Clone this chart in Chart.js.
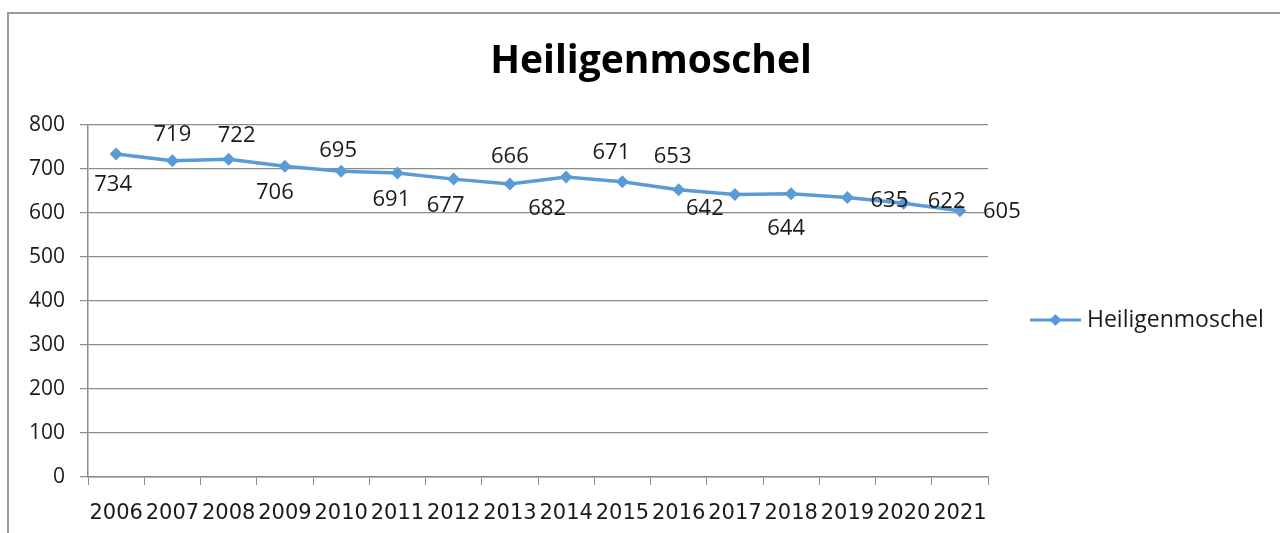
<!DOCTYPE html>
<html>
<head>
<meta charset="utf-8">
<script src="https://cdn.jsdelivr.net/npm/chart.js@4"></script>
<style>
  html, body { margin: 0; padding: 0; background: #fff; }
  #wrap { position: relative; width: 1280px; height: 533px; }
  #frame { position: absolute; left: 7px; top: 12px; right: 0; bottom: 0;
           border-left: 2px solid #9a9a9a; border-top: 2px solid #9a9a9a; }
  canvas { position: absolute; left: 0; top: 0; }
</style>
</head>
<body>
<div id="wrap">
  <div id="frame"></div>
  <canvas id="chart" width="1280" height="533"></canvas>
</div>
<script>
// data
const years = ['2006', '2007', '2008', '2009', '2010', '2011', '2012', '2013',
               '2014', '2015', '2016', '2017', '2018', '2019', '2020', '2021'];
const residents = [734, 719, 722, 706, 695, 691, 677, 666, 682, 671, 653, 642, 644, 635, 622, 605];
const seriesName = 'Heiligenmoschel';
const yTicks = [0, 100, 200, 300, 400, 500, 600, 700, 800];

const lineColor = '#5b9bd5';
const fontFamily = '"Open Sans", Lato, "Noto Sans", sans-serif';

// where each value label sits next to its point (dx, dy in px)
const labelNudge = [
  [-3, 31], [0, -26], [8, -24], [-10, 26], [-3, -20], [-6, 27], [-8, 27], [0, -27],
  [-19, 32], [-11, -29], [-6, -33], [-30, 14], [-5, 35], [42, 3], [43, -2], [42, 1]
];

// value labels
const valueLabels = {
  id: 'valueLabels',
  afterDatasetsDraw(chart) {
    const ctx = chart.ctx;
    const meta = chart.getDatasetMeta(0);
    ctx.save();
    ctx.font = '22px ' + fontFamily;
    ctx.fillStyle = '#1a1a1a';
    ctx.textAlign = 'center';
    ctx.textBaseline = 'middle';
    meta.data.forEach((pt, i) => {
      const n = labelNudge[i] || [0, -20];
      ctx.fillText(String(residents[i]), pt.x + n[0], pt.y + n[1]);
    });
    ctx.restore();
  }
};

// title (centred on the whole frame) and legend on the right, drawn by hand
const frameDecor = {
  id: 'frameDecor',
  afterDraw(chart) {
    const ctx = chart.ctx;
    ctx.save();
    ctx.font = 'bold 39px ' + fontFamily;
    ctx.fillStyle = '#000';
    ctx.textAlign = 'center';
    ctx.textBaseline = 'middle';
    ctx.fillText(seriesName, 651, 62);

    const y = (chart.chartArea.top + chart.chartArea.bottom) / 2 + 19;
    const x0 = 1030, x1 = 1081;
    ctx.strokeStyle = lineColor;
    ctx.lineWidth = 3;
    ctx.beginPath();
    ctx.moveTo(x0, y);
    ctx.lineTo(x1, y);
    ctx.stroke();
    const cx = (x0 + x1) / 2;
    ctx.fillStyle = lineColor;
    ctx.beginPath();
    ctx.moveTo(cx, y - 6);
    ctx.lineTo(cx + 6, y);
    ctx.lineTo(cx, y + 6);
    ctx.lineTo(cx - 6, y);
    ctx.closePath();
    ctx.fill();
    ctx.font = '23px ' + fontFamily;
    ctx.fillStyle = '#1a1a1a';
    ctx.textAlign = 'left';
    ctx.fillText(seriesName, x1 + 6, y);
    ctx.restore();
  }
};

new Chart(document.getElementById('chart'), {
  type: 'line',
  data: {
    labels: years,
    datasets: [{
      label: seriesName,
      data: residents,
      borderColor: lineColor,
      backgroundColor: lineColor,
      borderWidth: 3.5,
      pointStyle: 'rectRot',
      pointRadius: 6.5,
      pointBorderWidth: 0,
      pointBackgroundColor: lineColor,
      tension: 0
    }]
  },
  options: {
    responsive: false,
    animation: false,
    layout: { padding: { left: 0, right: 292, top: 125, bottom: 0 } },
    plugins: {
      legend: { display: false },
      tooltip: { enabled: false },
      title: { display: false }
    },
    scales: {
      x: {
        offset: true,
        afterFit(scale) { scale.height = 56; },
        grid: {
          offset: true,
          drawOnChartArea: false,
          drawTicks: true,
          tickLength: 8,
          color: '#8c8c8c'
        },
        border: { color: '#8c8c8c', width: 1.5 },
        ticks: {
          autoSkip: false,
          maxRotation: 0,
          padding: 16,
          color: '#1a1a1a',
          font: { family: '"DejaVu Sans", sans-serif', size: 21 }
        }
      },
      y: {
        min: 0,
        max: 800,
        afterFit(scale) { scale.width = 88; },
        afterBuildTicks(scale) { scale.ticks = yTicks.map(v => ({ value: v })); },
        grid: {
          color: '#8c8c8c',
          lineWidth: 1.2,
          drawTicks: true,
          tickLength: 8
        },
        border: { color: '#8c8c8c', width: 1.5 },
        ticks: {
          padding: 15,
          color: '#1a1a1a',
          font: { family: fontFamily, size: 21 }
        }
      }
    }
  },
  plugins: [valueLabels, frameDecor]
});
</script>
</body>
</html>
